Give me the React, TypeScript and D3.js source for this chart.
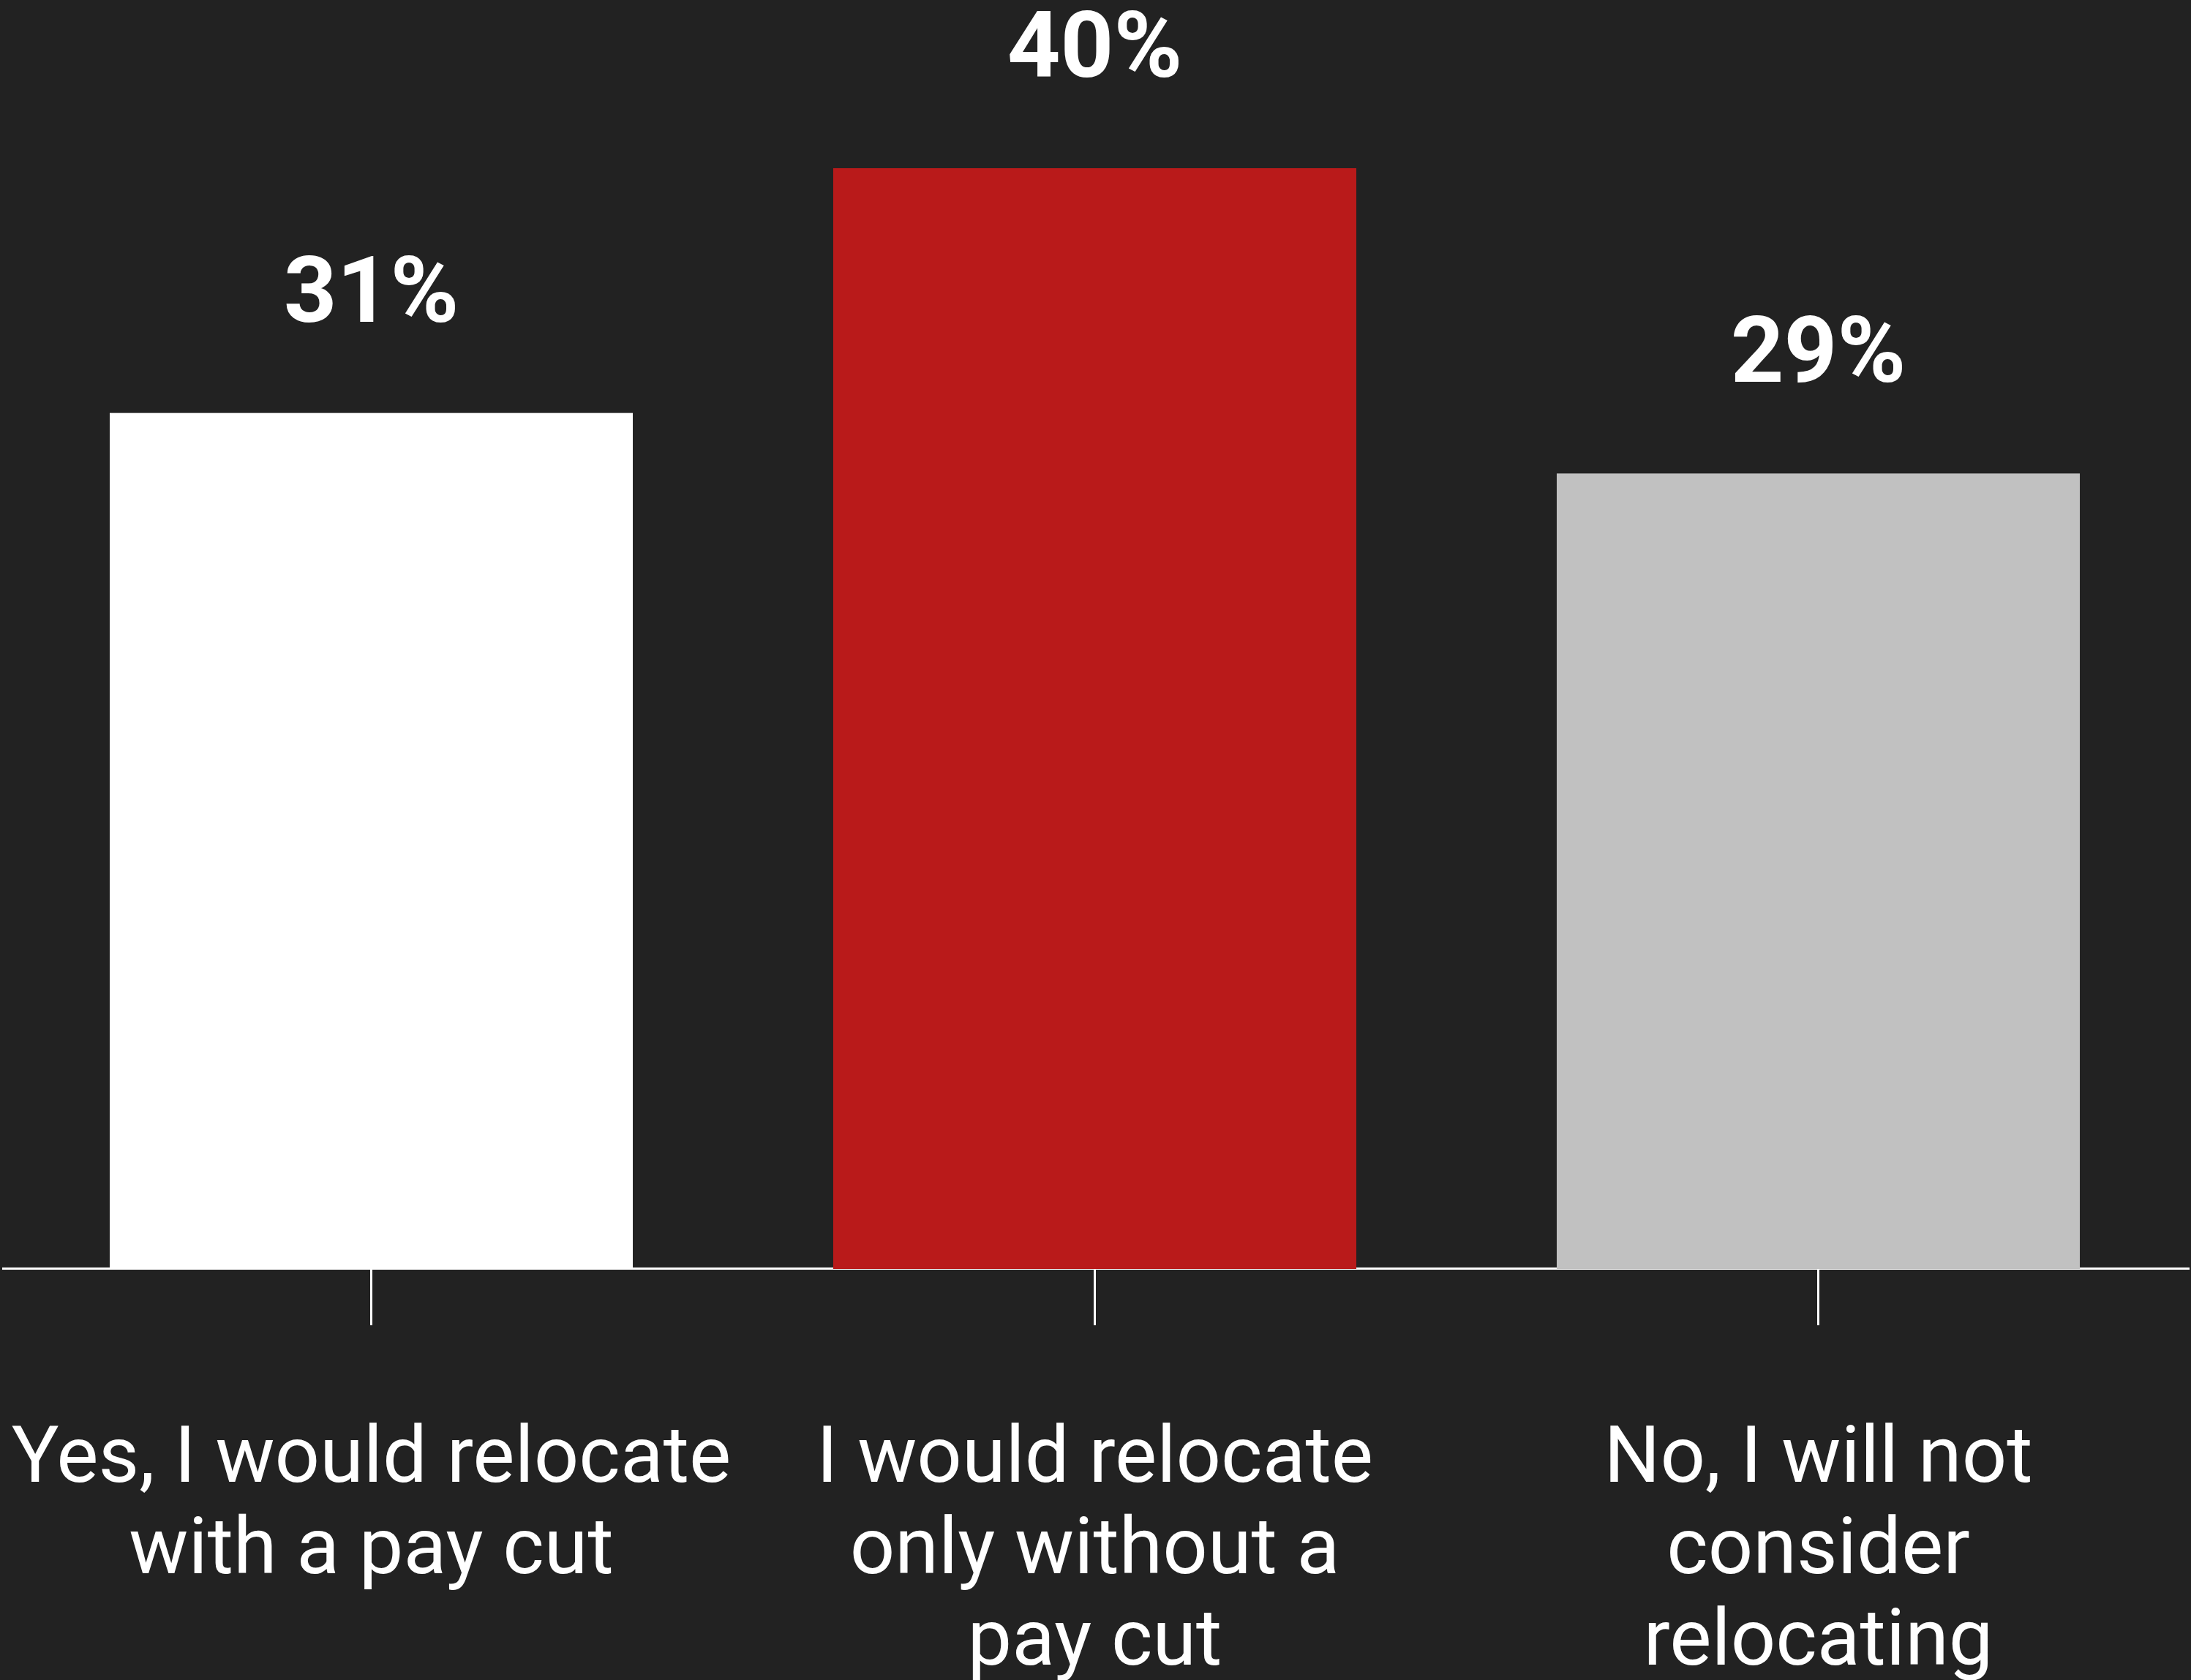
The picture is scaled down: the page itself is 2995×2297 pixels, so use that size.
import React from "react";
import * as d3 from "d3";

const categories = [
  "Yes, I would relocate\nwith a pay cut",
  "I would relocate\nonly without a\npay cut",
  "No, I will not\nconsider\nrelocating",
];
const values = [31.1, 40, 28.9];
const barColors = ["#ffffff", "#b91a1a", "#c1c1c1"];

const W = 2995;
const H = 2297;

export default function App() {
  const x = d3
    .scaleBand<string>()
    .domain(categories)
    .range([13, 2980])
    .paddingInner(0.277)
    .paddingOuter(0.1385);
  const y = d3.scaleLinear().domain([0, 40]).range([1734, 230]);
  const baseline = y(0);

  return (
    <svg
      width={W}
      height={H}
      style={{ position: "absolute", left: 0, top: 0, display: "block" }}
    >
      <rect x={0} y={0} width={W} height={H} fill="#222222" />
      <line x1={3} x2={2993} y1={baseline + 0.5} y2={baseline + 0.5} stroke="#ffffff" strokeWidth={3} />
      {categories.map((c, i) => {
        const bx = x(c)!;
        const cx = bx + x.bandwidth() / 2;
        return (
          <g key={c}>
            <rect
              x={bx}
              y={y(values[i])}
              width={x.bandwidth()}
              height={baseline + 1 - y(values[i])}
              fill={barColors[i]}
            />
            <line x1={cx} x2={cx} y1={baseline + 2} y2={1812} stroke="#ffffff" strokeWidth={3} />
            <text
              x={cx}
              y={y(values[i]) - 125}
              textAnchor="middle"
              fill="#ffffff"
              fontFamily="Roboto, sans-serif"
              fontWeight={700}
              fontSize={127}
            >
              {d3.format(".0f")(values[i]) + "%"}
            </text>
            <text
              textAnchor="middle"
              fill="#ffffff"
              fontFamily="Roboto, sans-serif"
              fontWeight={400}
              fontSize={108}
            >
              {c.split("\n").map((line, j) => (
                <tspan key={j} x={cx} y={2026 + j * 125}>
                  {line}
                </tspan>
              ))}
            </text>
          </g>
        );
      })}
    </svg>
  );
}
